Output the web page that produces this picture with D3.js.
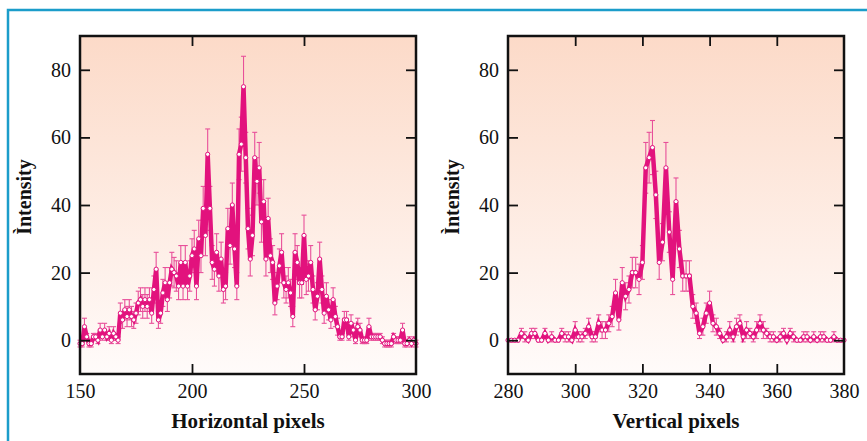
<!DOCTYPE html>
<html>
<head>
<meta charset="utf-8">
<script src="https://cdn.jsdelivr.net/npm/d3@7"></script>
<style>
  body { margin: 0; background: #fff; }
  svg { display: block; }
</style>
</head>
<body>
<div id="chart"></div>
<script>
// ---- data ----
var hPixels = d3.range(150, 301);
var hIntensity = [
  -1, -1, 4, 1, -1, -1, 1, 1, 0, 3, 1, 3, 1, 2, 0, 2, 1, 0,
  8, 6, 9, 7, 9, 7, 6, 8, 11, 12, 10, 12, 10, 12, 8, 15, 21, 6, 8, 14, 17, 12,
  17, 21, 20, 19, 16, 23, 16, 23, 16, 19, 25, 27, 16, 30, 25, 39, 31, 55, 39, 23,
  21, 26, 19, 24, 15, 16, 33, 28, 40, 27, 16, 55, 58, 75, 54, 33, 24, 31, 54, 47,
  51, 35, 41, 24, 36, 25, 23, 11, 16, 22, 26, 17, 15, 17, 14, 7, 26, 23, 17, 17,
  31, 18, 19, 23, 15, 9, 13, 24, 15, 8, 13, 9, 6, 12, 7, 4, 1, 1, 6, 6,
  1, 5, 3, 0, 4, 3, 0, 0, 0, 4, 1, 1, 1, 1, 1, 0, -1, -1, -1, -1,
  1, 0, 0, 0, 3, -1, -1, 0, -1, 0, -1
];
var hError = [
  1, 1, 2.5, 1, 1, 1, 1, 1, 1, 2, 1, 2, 1, 2, 1, 2, 1, 1,
  3, 2.5, 3, 3, 3, 3, 2.5, 3, 3.5, 3.5, 3.5, 3.5, 3.5, 3.5, 3, 4, 5, 2.5, 3, 4, 4.5, 3.5,
  4.5, 5, 4.5, 4.5, 4, 5, 4, 5, 4, 4.5, 5, 5.5, 4, 5.5, 5, 6.5, 6, 7.5, 6.5, 5,
  5, 5.5, 4.5, 5, 4, 4, 6, 5.5, 6.5, 5.5, 4, 7.5, 8, 9, 7.5, 6, 5, 6, 7.5, 7,
  7.5, 6, 6.5, 5, 6, 5, 5, 3.5, 4, 5, 5.5, 4.5, 4, 4.5, 4, 3, 5.5, 5, 4.5, 4.5,
  6, 4.5, 4.5, 5, 4, 3, 4, 5, 4, 3, 4, 3, 2.5, 3.5, 3, 2.5, 1, 1, 2.5, 2.5,
  1, 2.5, 2, 1, 2.5, 2, 1, 1, 1, 2.5, 1, 1, 1, 1, 1, 1, 1, 1, 1, 1,
  1, 1, 1, 1, 2, 1, 1, 1, 1, 1, 1
];

var vPixels = d3.range(280, 381);
var vIntensity = [
  0, 0, 0, 0, 2, 1, 0, 2, 2, 0, 0, 2, 0, 1, 0, 0, 2, 1, 1, 0,
  3, 1, 1, 2, 4, 1, 1, 5, 3, 3, 5, 7, 14, 6, 17, 13, 15, 20, 20, 18,
  23, 51, 54, 57, 43, 23, 29, 51, 32, 18, 41, 27, 19, 19, 19, 10, 8, 2, 4, 8,
  11, 5, 4, 2, 0, 1, 3, 1, 4, 5, 1, 3, 2, 1, 3, 5, 3, 2, 1, 1,
  0, 1, 2, 0, 2, 1, 0, 0, 1, 1, 0, 1, 0, 1, 1, 0, 0, 1, 0, 0, 0
];
var vError = [
  0, 0, 0, 0, 1.5, 1.5, 0, 1.5, 1.5, 0, 0, 1.5, 0, 1.5, 0, 0, 1.5, 1.5, 1.5, 0,
  2.5, 1.5, 1.5, 1.5, 2.5, 1.5, 1.5, 2.5, 2.5, 2.5, 2.5, 3, 4, 3, 4.5, 4, 4, 4.5, 4.5, 4.5,
  5, 7.5, 7.5, 8, 7, 5, 5.5, 7.5, 6, 4.5, 7, 5.5, 4.5, 4.5, 4.5, 3.5, 3, 1.5, 2.5, 3,
  3.5, 2.5, 2.5, 1.5, 0, 1.5, 2.5, 1.5, 2.5, 2.5, 1.5, 2.5, 1.5, 1.5, 2.5, 2.5, 2.5, 1.5, 1.5, 1.5,
  0, 1.5, 1.5, 0, 1.5, 1.5, 0, 0, 1.5, 1.5, 0, 1.5, 0, 1.5, 1.5, 0, 0, 1.5, 0, 0, 0
];

var yTicks = [0, 20, 40, 60, 80];
var hTicks = [150, 200, 250, 300];
var vTicks = [280, 300, 320, 340, 360, 380];

// ---- drawing ----
var W = 867, H = 441;
var lineColor = "#e2127d";
var barColor = "#e8509a";
var serif = "'Liberation Serif', 'DejaVu Serif', serif";

var svg = d3.select("#chart").append("svg")
    .attr("width", W)
    .attr("height", H);

// blue frame
svg.append("rect")
    .attr("x", 8).attr("y", 10)
    .attr("width", 900).attr("height", 500)
    .attr("fill", "#fff")
    .attr("stroke", "#1b9dca")
    .attr("stroke-width", 2.5);

var grad = svg.append("defs").append("linearGradient")
    .attr("id", "bg").attr("x1", 0).attr("y1", 0).attr("x2", 0).attr("y2", 1);
grad.append("stop").attr("offset", "0%").attr("stop-color", "#fcdac8");
grad.append("stop").attr("offset", "100%").attr("stop-color", "#fffbfa");

function drawPanel(left, right, xs, ys, errs, xDomain, xTicks, xTitle) {
    var top = 36, bottom = 374;

    var x = d3.scaleLinear().domain(xDomain).range([left, right]);
    var y = d3.scaleLinear().domain([-10, 90]).range([bottom, top]);

    var g = svg.append("g");

    g.append("rect")
        .attr("x", left).attr("y", top)
        .attr("width", right - left).attr("height", bottom - top)
        .attr("fill", "url(#bg)");

    var pts = xs.map(function(d, i) { return { x: d, y: ys[i], e: errs[i] }; });

    // error bars
    var eb = g.append("g")
        .attr("stroke", barColor)
        .attr("stroke-width", 1.1)
        .selectAll("g")
        .data(pts.filter(function(d) { return d.e > 0; }))
        .enter().append("g");
    eb.append("line")
        .attr("x1", function(d) { return x(d.x); })
        .attr("x2", function(d) { return x(d.x); })
        .attr("y1", function(d) { return y(d.y - d.e); })
        .attr("y2", function(d) { return y(d.y + d.e); });
    eb.append("line")
        .attr("x1", function(d) { return x(d.x) - 2.5; })
        .attr("x2", function(d) { return x(d.x) + 2.5; })
        .attr("y1", function(d) { return y(d.y + d.e); })
        .attr("y2", function(d) { return y(d.y + d.e); });
    eb.append("line")
        .attr("x1", function(d) { return x(d.x) - 2.5; })
        .attr("x2", function(d) { return x(d.x) + 2.5; })
        .attr("y1", function(d) { return y(d.y - d.e); })
        .attr("y2", function(d) { return y(d.y - d.e); });

    // thick line
    g.append("path")
        .datum(pts)
        .attr("fill", "none")
        .attr("stroke", lineColor)
        .attr("stroke-width", 4.5)
        .attr("stroke-linejoin", "miter")
        .attr("stroke-miterlimit", 3)
        .attr("d", d3.line()
            .x(function(d) { return x(d.x); })
            .y(function(d) { return y(d.y); }));

    // markers
    g.selectAll("circle")
        .data(pts)
        .enter().append("circle")
        .attr("cx", function(d) { return x(d.x); })
        .attr("cy", function(d) { return y(d.y); })
        .attr("r", 2.1)
        .attr("fill", "#fff")
        .attr("stroke", lineColor)
        .attr("stroke-width", 1);

    // axes, ticks pointing inward on all four sides
    var inner = function(v) { return v !== xDomain[0] && v !== xDomain[1]; };

    var ax = g.append("g")
        .attr("transform", "translate(0," + bottom + ")")
        .call(d3.axisBottom(x).tickValues(xTicks).tickSizeInner(-10).tickSizeOuter(0).tickPadding(10));
    var axTop = g.append("g")
        .attr("transform", "translate(0," + top + ")")
        .call(d3.axisTop(x).tickValues(xTicks.filter(inner)).tickSizeInner(-10).tickSizeOuter(0).tickFormat(""));
    var ay = g.append("g")
        .attr("transform", "translate(" + left + ",0)")
        .call(d3.axisLeft(y).tickValues(yTicks).tickSizeInner(-10).tickSizeOuter(0).tickPadding(9));
    var ayR = g.append("g")
        .attr("transform", "translate(" + right + ",0)")
        .call(d3.axisRight(y).tickValues(yTicks).tickSizeInner(-10).tickSizeOuter(0).tickFormat(""));

    [ax, axTop, ay, ayR].forEach(function(a) {
        a.select(".domain").remove();
        a.selectAll(".tick line").attr("stroke", "#111").attr("stroke-width", 1.8);
        a.selectAll(".tick text")
            .attr("fill", "#111")
            .style("font-family", serif)
            .style("font-size", "20px");
    });
    ax.selectAll(".tick line").filter(function(d) { return !inner(d); }).remove();

    // box
    g.append("rect")
        .attr("x", left).attr("y", top)
        .attr("width", right - left).attr("height", bottom - top)
        .attr("fill", "none")
        .attr("stroke", "#111")
        .attr("stroke-width", 2.5);

    // titles
    g.append("text")
        .attr("x", (left + right) / 2)
        .attr("y", 428)
        .attr("text-anchor", "middle")
        .style("font-family", serif)
        .style("font-weight", "bold")
        .style("font-size", "21px")
        .attr("fill", "#111")
        .text(xTitle);

    g.append("text")
        .attr("transform", "translate(" + (left - 49) + "," + ((top + bottom) / 2 - 8) + ")rotate(-90)")
        .attr("text-anchor", "middle")
        .style("font-family", serif)
        .style("font-weight", "bold")
        .style("font-size", "20px")
        .attr("fill", "#111")
        .text("Ìntensity");
}

drawPanel(80, 416, hPixels, hIntensity, hError, [150, 300], hTicks, "Horizontal pixels");
drawPanel(508, 844, vPixels, vIntensity, vError, [280, 380], vTicks, "Vertical pixels");
</script>
</body>
</html>
